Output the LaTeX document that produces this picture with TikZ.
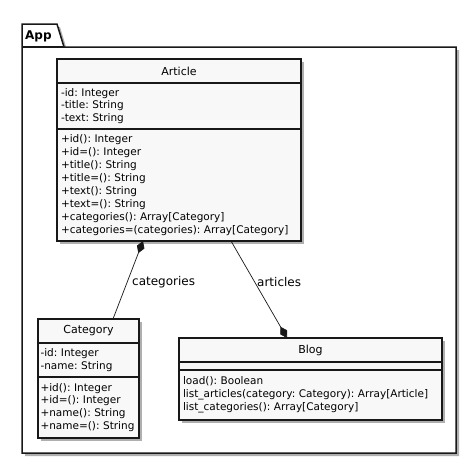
\documentclass[tikz,border=0pt]{standalone}
\usepackage{fontspec}
\setmainfont{DejaVu Sans}
\usetikzlibrary{arrows.meta,positioning,shadows}
\definecolor{umlline}{RGB}{24,24,24}
\definecolor{umlfill}{RGB}{248,248,248}
\definecolor{umlshade}{RGB}{175,175,175}
\newcommand{\umltext}{\fontsize{10.5}{12.9}\selectfont}
\newcommand{\umltitle}{\fontsize{11}{13}\selectfont}
\frenchspacing

\begin{document}
\begin{tikzpicture}[
    x=1pt, y=-1pt,
    node distance=0pt,
    umlpart/.style={rectangle, draw=umlline, line width=1.1pt, fill=umlfill, outer sep=0pt,
                 inner xsep=4pt, inner ysep=0pt, align=left, font=\umltext,
                 drop shadow={shadow xshift=3pt, shadow yshift=-3pt, fill=umlshade, opacity=1}},
    umlhead/.style={umlpart, align=center, font=\umltitle, minimum height=24pt},
    assoc/.style={line width=0.7pt, umlline},
    asslabel/.style={font=\fontsize{12}{14}\selectfont, inner sep=0pt}
]
\useasboundingbox (0,0) rectangle (468,464);
\fill[umlshade] (25,50) -- (25,27) -- (60,27) -- (67,50) -- (459,50) -- (459,456) -- (25,456) -- cycle;
\draw[line width=1.5pt, umlline, fill=white] (22,47) -- (22,24) -- (57,24) -- (64,47) -- (456,47) -- (456,453) -- (22,453) -- cycle;
\draw[line width=1.5pt, umlline] (22,47) -- (64,47);
\node[anchor=west, inner sep=0pt, font=\fontsize{12}{14}\selectfont\bfseries] (pkg) at (25,36) {App};

\node[umlhead, anchor=north west, text width=236pt] (arth) at (57,59) {Article};
\node[umlpart, below=of arth, text width=236pt, minimum height=46pt] (arta) {-id: Integer\\-title: String\\-text: String};
\node[umlpart, below=of arta, text width=236pt, minimum height=112pt] (artm)
    {+id(): Integer\\+id=(): Integer\\+title(): String\\+title=(): String\\+text(): String\\+text=(): String\\+categories(): Array[Category]\\+categories=(categories): Array[Category]};

\node[umlhead, anchor=north west, text width=96pt, inner xsep=2.5pt] (cath) at (38,319) {Category};
\node[umlpart, below=of cath, text width=96pt, inner xsep=2.5pt, minimum height=34pt] (cata) {-id: Integer\\-name: String};
\node[umlpart, below=of cata, text width=96pt, inner xsep=2.5pt, minimum height=61pt] (catm)
    {+id(): Integer\\+id=(): Integer\\+name(): String\\+name=(): String};

\node[umlhead, anchor=north west, text width=255pt] (blogh) at (179,338) {Blog};
\node[umlpart, below=of blogh, text width=255pt, minimum height=8pt] (bloga) {};
\node[umlpart, below=of bloga, text width=255pt, minimum height=50pt] (blogm)
    {load(): Boolean\\list\_articles(category: Category): Array[Article]\\list\_categories(): Array[Category]};

\draw[assoc, {Diamond[length=13pt,width=8pt]}-] ([xshift=86pt]artm.south west) -- ([xshift=75pt]cath.north west);
\draw[assoc, -{Diamond[length=13pt,width=8pt]}] ([xshift=174pt]artm.south west) -- ([xshift=108pt]blogh.north west);
\node[asslabel, anchor=west] (catlbl) at (132,282) {categories};
\node[asslabel, anchor=west] (artlbl) at (257,282) {articles};
\end{tikzpicture}
\end{document}
